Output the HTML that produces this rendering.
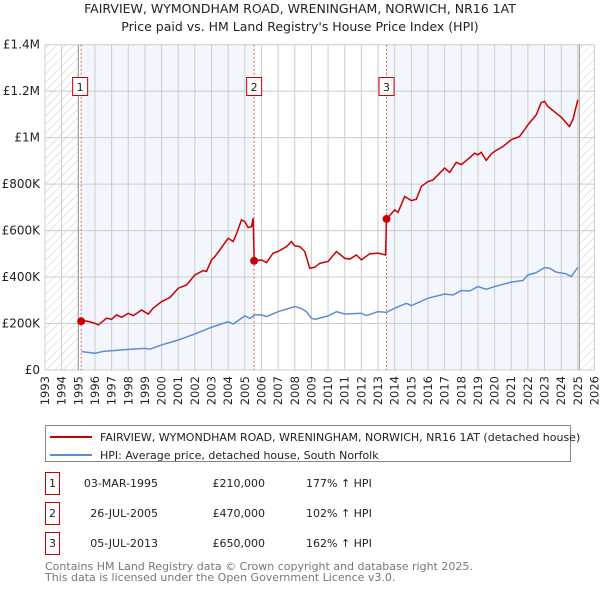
<!DOCTYPE html>
<html><head><meta charset="utf-8"><style>
body{margin:0;background:#fff;width:600px;height:590px;overflow:hidden;font-family:"DejaVu Sans","Liberation Sans",sans-serif;}
svg text{font-family:"DejaVu Sans","Liberation Sans",sans-serif;}
</style></head><body>
<svg id="c" width="600" height="590" xmlns="http://www.w3.org/2000/svg">
<defs><pattern id="hatch" width="6" height="6" patternUnits="userSpaceOnUse" patternTransform="rotate(45)"><line x1="0" y1="0" x2="0" y2="6" stroke="#ccc" stroke-width="1"/></pattern></defs>
<text x="300" y="13" text-anchor="middle" font-size="12.5" fill="#222">FAIRVIEW, WYMONDHAM ROAD, WRENINGHAM, NORWICH, NR16 1AT</text>
<text x="300" y="31" text-anchor="middle" font-size="12.5" fill="#222">Price paid vs. HM Land Registry's House Price Index (HPI)</text>
<g id="plot"></g>
<g>
<rect x="45.5" y="425.5" width="525" height="36" fill="#fff" stroke="#888"/>
<line x1="50" y1="437" x2="92" y2="437" stroke="#cc0000" stroke-width="2"/>
<text x="100" y="441" font-size="11" fill="#222">FAIRVIEW, WYMONDHAM ROAD, WRENINGHAM, NORWICH, NR16 1AT (detached house)</text>
<line x1="50" y1="455" x2="92" y2="455" stroke="#5b8fd4" stroke-width="2"/>
<text x="100" y="459" font-size="11" fill="#222">HPI: Average price, detached house, South Norfolk</text>
</g>
<g id="table" font-size="11" fill="#222"></g>
<text x="45" y="570" font-size="11" fill="#777">Contains HM Land Registry data © Crown copyright and database right 2025.</text>
<text x="45" y="581" font-size="11" fill="#777">This data is licensed under the Open Government Licence v3.0.</text>
</svg>
<script>
const hpiYears=[1995.2,1996,1996.5,1997,1998,1999,1999.3,2000,2001,2002,2003,2004,2004.3,2005,2005.3,2005.6,2006,2006.3,2007,2008,2008.4,2008.7,2009,2009.2,2010,2010.5,2011,2012,2012.3,2013,2013.5,2014,2014.7,2015,2016,2017,2017.5,2018,2018.5,2019,2019.5,2020,2021,2021.7,2022,2022.5,2023,2023.3,2023.7,2024.3,2024.6,2025];
const hpiValues=[79,72,80,83,89,93,90,108,129,155,184,208,198,233,222,237,237,230,251,273,264,251,223,218,233,251,241,244,234,251,248,266,287,277,309,327,323,342,340,359,347,359,378,385,409,419,441,438,421,414,402,442];
const priceYears=[1995.17,1995.5,1996,1996.2,1996.7,1997,1997.3,1997.6,1998,1998.3,1998.8,1999.2,1999.5,2000,2000.5,2001,2001.5,2002,2002.5,2002.7,2003,2003.2,2003.5,2004,2004.3,2004.5,2004.8,2005,2005.2,2005.4,2005.5,2005.56,2006,2006.3,2006.7,2007,2007.5,2007.8,2008,2008.3,2008.6,2008.9,2009.2,2009.5,2010,2010.5,2011,2011.3,2011.7,2012,2012.5,2013,2013.45,2013.51,2014,2014.2,2014.6,2015,2015.3,2015.6,2016,2016.3,2016.7,2017,2017.3,2017.7,2018,2018.5,2018.8,2019,2019.2,2019.5,2019.8,2020,2020.5,2021,2021.5,2021.8,2022,2022.5,2022.8,2023,2023.2,2024,2024.5,2024.7,2025];
const priceValues=[210,211,201,194,223,218,237,227,244,234,258,241,266,294,312,352,366,409,428,424,474,488,517,567,553,586,646,639,613,617,653,470,474,462,503,510,531,553,534,531,510,438,442,459,467,510,481,477,495,474,500,503,495,650,689,678,747,729,735,790,811,818,847,869,850,894,884,913,933,926,937,902,930,941,962,991,1005,1034,1055,1098,1151,1156,1134,1088,1048,1077,1163];
const saleYears=[1995.17,2005.56,2013.51];
const saleValues=[210,470,650];
const saleLabels=["1","2","3"];
const saleDates=["03-MAR-1995","26-JUL-2005","05-JUL-2013"];
const salePrices=["£210,000","£470,000","£650,000"];
const saleHpi=["177% ↑ HPI","102% ↑ HPI","162% ↑ HPI"];
const yTicks=[0,200,400,600,800,1000,1200,1400];
const yTickLabels=["£0","£200K","£400K","£600K","£800K","£1M","£1.2M","£1.4M"];
const xTicks=[];for(let y=1993;y<=2026;y++)xTicks.push(y);
const X0=45,X1=594.5,Y0=370,Y1=44.7;
const xs=v=>X0+(v-1993)/(2026-1993)*(X1-X0);
const ys=v=>Y0-(v/1400)*(Y0-Y1);
const NS="http://www.w3.org/2000/svg";
const plot=document.getElementById('plot');
function mk(tag,attrs,parent){const e=document.createElementNS(NS,tag);for(const k in attrs)e.setAttribute(k,attrs[k]);(parent||plot).appendChild(e);return e;}
// shading
let r;
r=mk('rect',{x:xs(1993),y:Y1,width:xs(1995.0)-xs(1993),height:Y0-Y1,fill:'url(#hatch)'});


r=mk('rect',{x:xs(2025.09),y:Y1,width:X1-xs(2025.09),height:Y0-Y1,fill:'url(#hatch)'});


r=mk('rect',{x:xs(saleYears[0]),y:Y1,width:xs(saleYears[1])-xs(saleYears[0]),height:Y0-Y1,fill:'#eef3fc',opacity:0.7});


r=mk('rect',{x:xs(saleYears[2]),y:Y1,width:xs(2025.09)-xs(saleYears[2]),height:Y0-Y1,fill:'#eef3fc',opacity:0.7});


// grid
xTicks.forEach(t=>{const l=mk('line',{x1:xs(t),x2:xs(t),y1:Y1,y2:Y0,stroke:'#ccc','stroke-width':1});


const tx=mk('text',{x:0,y:0,'font-size':11.5,fill:'#222','text-anchor':'end',transform:`translate(${xs(t)+4},${Y0+6}) rotate(-90)`});tx.textContent=t;

});
yTicks.forEach((t,i)=>{const l=mk('line',{x1:X0,x2:X1,y1:ys(t),y2:ys(t),stroke:'#ccc','stroke-width':1});


const tx=mk('text',{x:X0-5,y:ys(t)+4,'font-size':12,fill:'#222','text-anchor':'end'});tx.textContent=yTickLabels[i];

});
let a=mk('line',{x1:xs(1995.0),x2:xs(1995.0),y1:Y1,y2:Y0,stroke:'#999'});


a=mk('line',{x1:xs(2025.09),x2:xs(2025.09),y1:Y1,y2:Y0,stroke:'#999'});


// sale vlines
saleYears.forEach((s,i)=>{const l=mk('line',{x1:xs(s),x2:xs(s),y1:Y1,y2:Y0,stroke:'#e06060','stroke-dasharray':'2,2','stroke-width':1});

});
// series
const hp=mk('polyline',{points:hpiYears.map((y,i)=>xs(y)+','+ys(hpiValues[i])).join(' '),fill:'none',stroke:'#5b8fd4','stroke-width':1.5});


const pp=mk('polyline',{points:priceYears.map((y,i)=>xs(y)+','+ys(priceValues[i])).join(' '),fill:'none',stroke:'#cc0000','stroke-width':1.5});


saleYears.forEach((s,i)=>{const c=mk('circle',{cx:xs(s),cy:ys(saleValues[i]),r:4,fill:'#cc0000'});


const b=mk('rect',{x:xs(s)-7.5-(i==0?1:0),y:77.5,width:15,height:18,fill:'#fff',stroke:'#cc0000'});


const t=mk('text',{x:xs(s)-(i==0?1:0),y:91,'font-size':11,fill:'#222','text-anchor':'middle'});t.textContent=saleLabels[i];

});
// table
const tb=document.getElementById('table');
const rowsY=[487,517,547];
saleLabels.forEach((lab,i)=>{
const g=mk('g',{},tb);


mk('rect',{x:45.5,y:rowsY[i]-14.5,width:14,height:22,fill:'#fff',stroke:'#cc0000'},g);
const t1=mk('text',{x:52.5,y:rowsY[i],'text-anchor':'middle'},g);t1.textContent=lab;
const t2=mk('text',{x:158,y:rowsY[i],'text-anchor':'end'},g);t2.textContent=saleDates[i];


const t3=mk('text',{x:265,y:rowsY[i],'text-anchor':'end'},g);t3.textContent=salePrices[i];


const t4=mk('text',{x:306,y:rowsY[i]},g);t4.textContent=saleHpi[i];


});
</script>
</body></html>
